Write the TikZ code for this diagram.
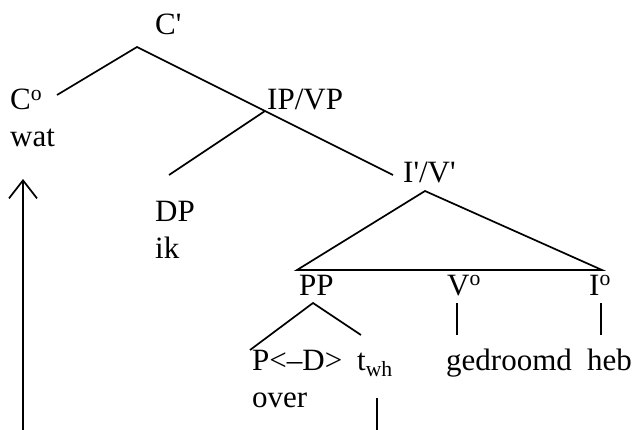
\documentclass[tikz,border=0pt]{standalone}
\usepackage{fontspec}
\setmainfont{Liberation Serif}[Ligatures=TeXOff]
\usetikzlibrary{arrows.meta}
\begin{document}
\begin{tikzpicture}[x=1pt,y=-1pt,
  lbl/.style={anchor=base west,inner sep=0pt,font=\fontsize{31}{36}\selectfont},
  edge/.style={draw=black,line width=1.7pt},
  trace/.style={draw=black,line width=1.7pt,-{Straight Barb[length=18pt,width=28pt,line width=1.7pt]}}]
\useasboundingbox (0,0) rectangle (636,430);
% labels
\node[lbl] (cbar) at (155,35) {C'};
\node[lbl] (c0) at (10,110) {C\textsuperscript{o}};
\node[lbl] (wat) at (10,147) {wat};
\node[lbl] (ipvp) at (267,110) {IP/VP};
\node[lbl] (dp) at (155,222) {DP};
\node[lbl] (ik) at (155,258) {ik};
\node[lbl] (ibar) at (403,183) {I'/V'};
\node[lbl] (pp) at (299,295) {PP};
\node[lbl] (v0) at (447,295) {V\textsuperscript{o}};
\node[lbl] (i0) at (589,295) {I\textsuperscript{o}};
\node[lbl] (pd) at (252,370) {P<–D>};
\node[lbl] (twh) at (357,370) {t\textsubscript{wh}};
\node[lbl] (ged) at (446,370) {gedroomd};
\node[lbl] (heb) at (587,370) {heb};
\node[lbl] (over) at (252,407) {over};
% branch points
\coordinate (cTop) at (137,47);
\coordinate (cL) at (57,95);
\coordinate (cR) at (393,175);
\coordinate (ipTop) at (265,111);
\coordinate (ipL) at (169,175);
\coordinate (triTop) at (425,191);
\coordinate (triL) at (297,270);
\coordinate (triR) at (602,270);
\coordinate (ppTop) at (313,303);
\coordinate (ppL) at (250,350);
\coordinate (ppR) at (361,335);
\coordinate (vTop) at (457,303);
\coordinate (vBot) at (457,335);
\coordinate (iTop) at (601,303);
\coordinate (iBot) at (601,335);
\coordinate (tTop) at (377,398);
\coordinate (tBot) at (377,430);
\coordinate (aBot) at (23,430);
\coordinate (aTop) at (23,179);
% edges
\draw[edge] (cL) -- (cTop) -- (cR);
\draw[edge] (ipTop) -- (ipL);
\draw[edge] (triL) -- (triTop) -- (triR) -- cycle;
\draw[edge] (ppL) -- (ppTop) -- (ppR);
\draw[edge] (vTop) -- (vBot);
\draw[edge] (iTop) -- (iBot);
\draw[edge] (tTop) -- (tBot);
\draw[trace] (aBot) -- (aTop);
\end{tikzpicture}
\end{document}
